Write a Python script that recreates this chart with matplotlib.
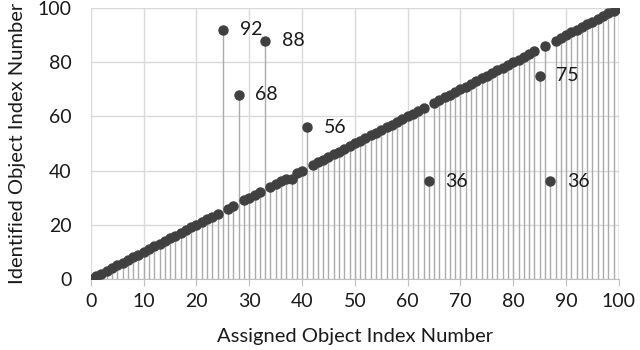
import matplotlib
matplotlib.use("Agg")
import matplotlib.pyplot as plt
import numpy as np

plt.rcParams['font.family'] = ['Lato', 'DejaVu Sans']

assigned = list(range(0, 101))
outlier_x = [25, 28, 33, 41, 64, 85, 87]
outlier_y = [92, 68, 88, 56, 36, 75, 36]
shift_x = [38]
shift_y = [37]

identified = list(assigned)
for xx, yy in zip(outlier_x, outlier_y):
    identified[xx] = yy
for xx, yy in zip(shift_x, shift_y):
    identified[xx] = yy

fig = plt.figure(figsize=(6.4, 3.5), dpi=100)
ax = fig.add_axes([0.142, 0.203, 0.825, 0.774])

ax.vlines(assigned, 0, identified, color='#ababab', lw=1.0, zorder=2)
ax.plot(assigned, identified, 'o', color='#404040', ms=6.5, mec='#404040', zorder=3)

for xx, yy in zip(outlier_x, outlier_y):
    ax.annotate(str(yy), (xx, yy), xytext=(12, 0), textcoords='offset points',
                va='center', ha='left', fontsize=14, color='#1a1a1a')

ax.set_xlim(0, 100)
ax.set_ylim(0, 100)
ax.set_xticks(range(0, 101, 10))
ax.set_yticks(range(0, 101, 20))
ax.grid(True, color='#d9d9d9', lw=1.0, zorder=0)
ax.set_axisbelow(True)
for s in ['top', 'right', 'left']:
    ax.spines[s].set_visible(False)
ax.spines['bottom'].set_color('#bfbfbf')
ax.tick_params(axis='x', length=5, color='#bfbfbf', labelsize=14, labelcolor='#1a1a1a', pad=5)
ax.tick_params(axis='y', length=0, labelsize=14, labelcolor='#1a1a1a', pad=14)
ax.set_xlabel('Assigned Object Index Number', fontsize=14.5, color='#1a1a1a', labelpad=13)
ax.set_ylabel('Identified Object Index Number', fontsize=14.5, color='#1a1a1a', labelpad=8)

fig.savefig('out.png', dpi=100)
